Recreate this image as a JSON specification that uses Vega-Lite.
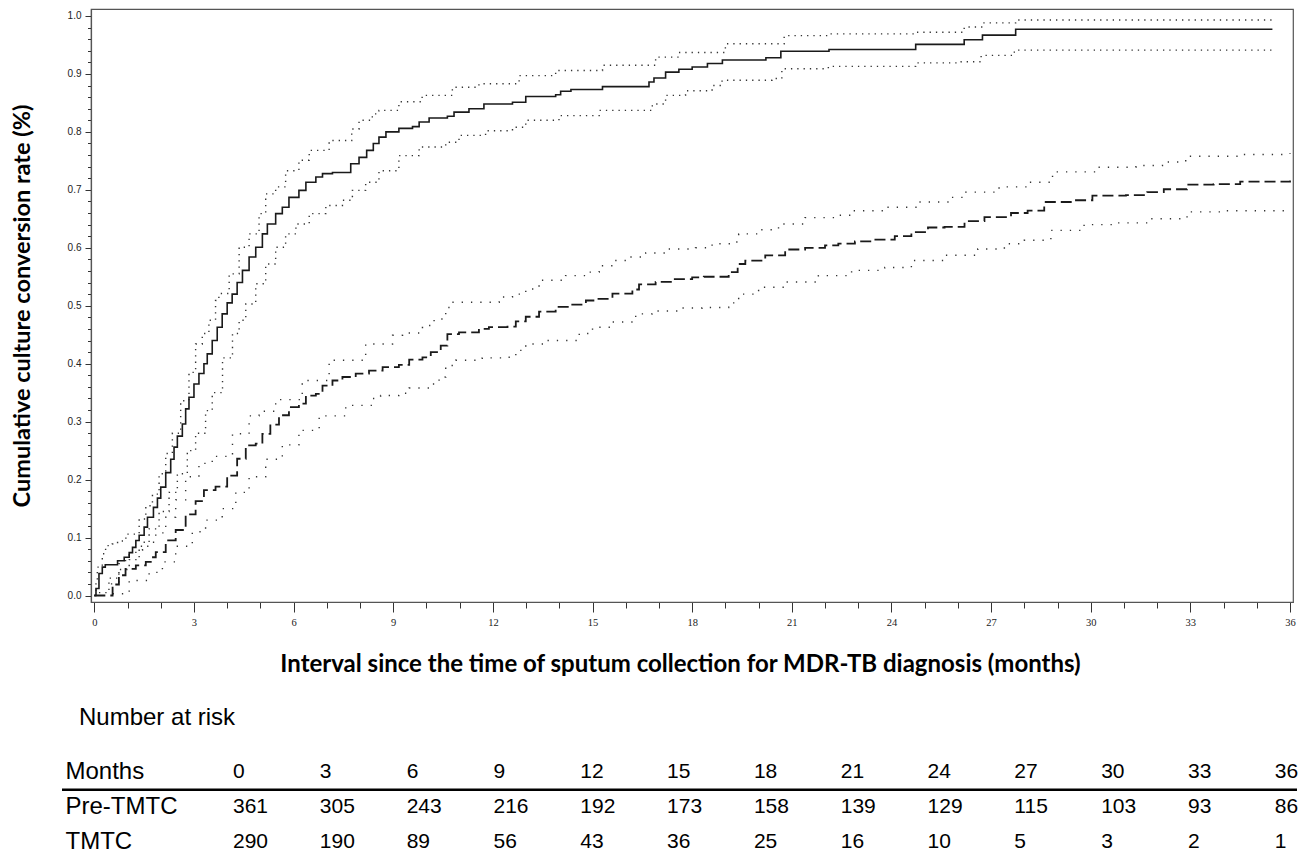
{
  "$schema": "https://vega.github.io/schema/vega-lite/v6.json",
  "background": "white",
  "padding": {"left": 9, "top": 8, "right": 0, "bottom": 0},
  "config": {"view": {"stroke": null}, "font": "Liberation Sans"},
  "spacing": 28,
  "datasets": {
    "km": [
      {"s":"TE","m":0,"v":0},{"s":"TE","m":0.05,"v":0.012},{"s":"TE","m":0.14,"v":0.038},{"s":"TE","m":0.24,"v":0.049},{"s":"TE","m":0.33,"v":0.053},{"s":"TE","m":0.7,"v":0.06},{"s":"TE","m":0.9,"v":0.066},{"s":"TE","m":1.05,"v":0.074},{"s":"TE","m":1.15,"v":0.083},{"s":"TE","m":1.25,"v":0.095},{"s":"TE","m":1.35,"v":0.104},{"s":"TE","m":1.5,"v":0.118},{"s":"TE","m":1.6,"v":0.135},{"s":"TE","m":1.78,"v":0.152},{"s":"TE","m":1.9,"v":0.168},{"s":"TE","m":2.0,"v":0.187},{"s":"TE","m":2.15,"v":0.212},{"s":"TE","m":2.3,"v":0.235},{"s":"TE","m":2.4,"v":0.256},{"s":"TE","m":2.5,"v":0.275},{"s":"TE","m":2.65,"v":0.296},{"s":"TE","m":2.75,"v":0.322},{"s":"TE","m":2.85,"v":0.342},{"s":"TE","m":3.0,"v":0.365},{"s":"TE","m":3.15,"v":0.383},{"s":"TE","m":3.3,"v":0.4},{"s":"TE","m":3.4,"v":0.417},{"s":"TE","m":3.55,"v":0.44},{"s":"TE","m":3.7,"v":0.463},{"s":"TE","m":3.85,"v":0.486},{"s":"TE","m":4.0,"v":0.505},{"s":"TE","m":4.15,"v":0.52},{"s":"TE","m":4.3,"v":0.54},{"s":"TE","m":4.46,"v":0.561},{"s":"TE","m":4.66,"v":0.584},{"s":"TE","m":4.86,"v":0.601},{"s":"TE","m":5.06,"v":0.624},{"s":"TE","m":5.21,"v":0.641},{"s":"TE","m":5.46,"v":0.659},{"s":"TE","m":5.66,"v":0.67},{"s":"TE","m":5.86,"v":0.687},{"s":"TE","m":6.16,"v":0.699},{"s":"TE","m":6.37,"v":0.713},{"s":"TE","m":6.67,"v":0.722},{"s":"TE","m":6.87,"v":0.728},{"s":"TE","m":7.17,"v":0.73},{"s":"TE","m":7.72,"v":0.745},{"s":"TE","m":7.97,"v":0.756},{"s":"TE","m":8.2,"v":0.768},{"s":"TE","m":8.4,"v":0.78},{"s":"TE","m":8.57,"v":0.791},{"s":"TE","m":8.78,"v":0.8},{"s":"TE","m":9.17,"v":0.806},{"s":"TE","m":9.58,"v":0.809},{"s":"TE","m":9.78,"v":0.817},{"s":"TE","m":10.08,"v":0.824},{"s":"TE","m":10.63,"v":0.827},{"s":"TE","m":10.83,"v":0.834},{"s":"TE","m":11.28,"v":0.84},{"s":"TE","m":11.73,"v":0.848},{"s":"TE","m":12.59,"v":0.851},{"s":"TE","m":12.99,"v":0.861},{"s":"TE","m":13.89,"v":0.864},{"s":"TE","m":14.04,"v":0.87},{"s":"TE","m":14.35,"v":0.873},{"s":"TE","m":15.3,"v":0.878},{"s":"TE","m":16.7,"v":0.886},{"s":"TE","m":16.85,"v":0.893},{"s":"TE","m":17.2,"v":0.903},{"s":"TE","m":17.6,"v":0.908},{"s":"TE","m":18.0,"v":0.912},{"s":"TE","m":18.46,"v":0.918},{"s":"TE","m":18.91,"v":0.924},{"s":"TE","m":20.22,"v":0.928},{"s":"TE","m":20.67,"v":0.939},{"s":"TE","m":22.12,"v":0.942},{"s":"TE","m":24.73,"v":0.951},{"s":"TE","m":26.19,"v":0.959},{"s":"TE","m":26.74,"v":0.967},{"s":"TE","m":27.74,"v":0.977},{"s":"TE","m":35.47,"v":0.977},
      {"s":"TU","m":0,"v":0},{"s":"TU","m":0.05,"v":0.02},{"s":"TU","m":0.09,"v":0.049},{"s":"TU","m":0.24,"v":0.072},{"s":"TU","m":0.34,"v":0.086},{"s":"TU","m":0.54,"v":0.089},{"s":"TU","m":0.7,"v":0.094},{"s":"TU","m":0.95,"v":0.106},{"s":"TU","m":1.35,"v":0.132},{"s":"TU","m":1.55,"v":0.155},{"s":"TU","m":1.75,"v":0.175},{"s":"TU","m":1.95,"v":0.21},{"s":"TU","m":2.15,"v":0.245},{"s":"TU","m":2.35,"v":0.28},{"s":"TU","m":2.6,"v":0.336},{"s":"TU","m":2.85,"v":0.385},{"s":"TU","m":3.05,"v":0.434},{"s":"TU","m":3.25,"v":0.452},{"s":"TU","m":3.45,"v":0.475},{"s":"TU","m":3.65,"v":0.509},{"s":"TU","m":3.75,"v":0.521},{"s":"TU","m":4.06,"v":0.555},{"s":"TU","m":4.36,"v":0.601},{"s":"TU","m":4.66,"v":0.624},{"s":"TU","m":4.96,"v":0.659},{"s":"TU","m":5.16,"v":0.693},{"s":"TU","m":5.46,"v":0.705},{"s":"TU","m":5.76,"v":0.733},{"s":"TU","m":6.16,"v":0.751},{"s":"TU","m":6.47,"v":0.768},{"s":"TU","m":7.07,"v":0.785},{"s":"TU","m":7.75,"v":0.805},{"s":"TU","m":7.97,"v":0.82},{"s":"TU","m":8.37,"v":0.831},{"s":"TU","m":8.57,"v":0.837},{"s":"TU","m":9.17,"v":0.852},{"s":"TU","m":9.87,"v":0.863},{"s":"TU","m":10.78,"v":0.877},{"s":"TU","m":11.58,"v":0.883},{"s":"TU","m":12.79,"v":0.897},{"s":"TU","m":13.89,"v":0.906},{"s":"TU","m":15.3,"v":0.915},{"s":"TU","m":16.9,"v":0.929},{"s":"TU","m":17.6,"v":0.937},{"s":"TU","m":19.0,"v":0.952},{"s":"TU","m":20.77,"v":0.966},{"s":"TU","m":22.12,"v":0.969},{"s":"TU","m":24.73,"v":0.972},{"s":"TU","m":26.19,"v":0.981},{"s":"TU","m":26.74,"v":0.988},{"s":"TU","m":27.74,"v":0.993},{"s":"TU","m":35.47,"v":0.993},
      {"s":"TL","m":0.14,"v":0.005},{"s":"TL","m":0.44,"v":0.03},{"s":"TL","m":0.74,"v":0.045},{"s":"TL","m":1.05,"v":0.062},{"s":"TL","m":1.35,"v":0.085},{"s":"TL","m":1.65,"v":0.115},{"s":"TL","m":1.95,"v":0.145},{"s":"TL","m":2.25,"v":0.178},{"s":"TL","m":2.5,"v":0.21},{"s":"TL","m":2.8,"v":0.25},{"s":"TL","m":3.05,"v":0.28},{"s":"TL","m":3.35,"v":0.319},{"s":"TL","m":3.55,"v":0.35},{"s":"TL","m":3.86,"v":0.41},{"s":"TL","m":4.16,"v":0.452},{"s":"TL","m":4.36,"v":0.475},{"s":"TL","m":4.56,"v":0.503},{"s":"TL","m":4.86,"v":0.538},{"s":"TL","m":5.16,"v":0.572},{"s":"TL","m":5.46,"v":0.601},{"s":"TL","m":5.76,"v":0.624},{"s":"TL","m":6.07,"v":0.641},{"s":"TL","m":6.47,"v":0.659},{"s":"TL","m":6.97,"v":0.673},{"s":"TL","m":7.47,"v":0.682},{"s":"TL","m":7.77,"v":0.699},{"s":"TL","m":8.17,"v":0.713},{"s":"TL","m":8.57,"v":0.733},{"s":"TL","m":9.17,"v":0.759},{"s":"TL","m":9.78,"v":0.774},{"s":"TL","m":10.58,"v":0.782},{"s":"TL","m":10.98,"v":0.794},{"s":"TL","m":11.78,"v":0.802},{"s":"TL","m":12.59,"v":0.808},{"s":"TL","m":12.99,"v":0.82},{"s":"TL","m":13.99,"v":0.828},{"s":"TL","m":15.2,"v":0.837},{"s":"TL","m":16.6,"v":0.837},{"s":"TL","m":16.8,"v":0.848},{"s":"TL","m":17.2,"v":0.863},{"s":"TL","m":17.8,"v":0.871},{"s":"TL","m":18.6,"v":0.88},{"s":"TL","m":18.9,"v":0.889},{"s":"TL","m":20.4,"v":0.892},{"s":"TL","m":20.7,"v":0.909},{"s":"TL","m":22.1,"v":0.913},{"s":"TL","m":24.73,"v":0.919},{"s":"TL","m":26.1,"v":0.921},{"s":"TL","m":26.7,"v":0.932},{"s":"TL","m":27.7,"v":0.941},{"s":"TL","m":35.47,"v":0.941},
      {"s":"PE","m":0,"v":0},{"s":"PE","m":0.55,"v":0.019},{"s":"PE","m":0.74,"v":0.035},{"s":"PE","m":0.94,"v":0.046},{"s":"PE","m":1.25,"v":0.052},{"s":"PE","m":1.55,"v":0.058},{"s":"PE","m":1.7,"v":0.066},{"s":"PE","m":1.85,"v":0.075},{"s":"PE","m":2.15,"v":0.095},{"s":"PE","m":2.45,"v":0.113},{"s":"PE","m":2.75,"v":0.14},{"s":"PE","m":3.05,"v":0.163},{"s":"PE","m":3.3,"v":0.182},{"s":"PE","m":3.65,"v":0.188},{"s":"PE","m":4.0,"v":0.207},{"s":"PE","m":4.3,"v":0.236},{"s":"PE","m":4.56,"v":0.259},{"s":"PE","m":4.86,"v":0.262},{"s":"PE","m":5.06,"v":0.279},{"s":"PE","m":5.3,"v":0.295},{"s":"PE","m":5.56,"v":0.311},{"s":"PE","m":5.86,"v":0.325},{"s":"PE","m":6.16,"v":0.331},{"s":"PE","m":6.37,"v":0.345},{"s":"PE","m":6.67,"v":0.348},{"s":"PE","m":6.87,"v":0.362},{"s":"PE","m":7.17,"v":0.371},{"s":"PE","m":7.47,"v":0.377},{"s":"PE","m":7.87,"v":0.383},{"s":"PE","m":8.27,"v":0.388},{"s":"PE","m":8.68,"v":0.394},{"s":"PE","m":9.17,"v":0.398},{"s":"PE","m":9.48,"v":0.407},{"s":"PE","m":9.88,"v":0.411},{"s":"PE","m":10.13,"v":0.42},{"s":"PE","m":10.43,"v":0.431},{"s":"PE","m":10.63,"v":0.451},{"s":"PE","m":10.98,"v":0.454},{"s":"PE","m":11.58,"v":0.46},{"s":"PE","m":11.88,"v":0.463},{"s":"PE","m":12.44,"v":0.464},{"s":"PE","m":12.69,"v":0.473},{"s":"PE","m":12.99,"v":0.481},{"s":"PE","m":13.39,"v":0.49},{"s":"PE","m":13.89,"v":0.498},{"s":"PE","m":14.39,"v":0.502},{"s":"PE","m":14.8,"v":0.509},{"s":"PE","m":15.1,"v":0.512},{"s":"PE","m":15.6,"v":0.521},{"s":"PE","m":16.2,"v":0.528},{"s":"PE","m":16.4,"v":0.537},{"s":"PE","m":16.9,"v":0.541},{"s":"PE","m":17.4,"v":0.546},{"s":"PE","m":18.0,"v":0.549},{"s":"PE","m":18.35,"v":0.55},{"s":"PE","m":19.1,"v":0.558},{"s":"PE","m":19.37,"v":0.572},{"s":"PE","m":19.6,"v":0.578},{"s":"PE","m":20.2,"v":0.587},{"s":"PE","m":20.8,"v":0.597},{"s":"PE","m":21.4,"v":0.6},{"s":"PE","m":22.0,"v":0.604},{"s":"PE","m":22.4,"v":0.607},{"s":"PE","m":22.9,"v":0.611},{"s":"PE","m":23.4,"v":0.614},{"s":"PE","m":24.1,"v":0.62},{"s":"PE","m":24.6,"v":0.627},{"s":"PE","m":25.1,"v":0.635},{"s":"PE","m":25.6,"v":0.636},{"s":"PE","m":26.2,"v":0.646},{"s":"PE","m":26.8,"v":0.653},{"s":"PE","m":27.6,"v":0.66},{"s":"PE","m":28.1,"v":0.664},{"s":"PE","m":28.6,"v":0.679},{"s":"PE","m":29.4,"v":0.682},{"s":"PE","m":30.05,"v":0.69},{"s":"PE","m":31.06,"v":0.691},{"s":"PE","m":31.7,"v":0.696},{"s":"PE","m":32.2,"v":0.701},{"s":"PE","m":32.9,"v":0.709},{"s":"PE","m":33.7,"v":0.71},{"s":"PE","m":34.5,"v":0.714},{"s":"PE","m":36.0,"v":0.716},
      {"s":"PU","m":0.5,"v":0.02},{"s":"PU","m":0.74,"v":0.055},{"s":"PU","m":0.94,"v":0.07},{"s":"PU","m":1.25,"v":0.078},{"s":"PU","m":1.45,"v":0.092},{"s":"PU","m":1.85,"v":0.108},{"s":"PU","m":2.15,"v":0.135},{"s":"PU","m":2.45,"v":0.165},{"s":"PU","m":2.75,"v":0.205},{"s":"PU","m":3.15,"v":0.228},{"s":"PU","m":3.55,"v":0.24},{"s":"PU","m":4.16,"v":0.279},{"s":"PU","m":4.66,"v":0.31},{"s":"PU","m":4.96,"v":0.318},{"s":"PU","m":5.46,"v":0.338},{"s":"PU","m":6.26,"v":0.371},{"s":"PU","m":7.07,"v":0.406},{"s":"PU","m":8.17,"v":0.434},{"s":"PU","m":8.98,"v":0.449},{"s":"PU","m":9.28,"v":0.453},{"s":"PU","m":9.88,"v":0.466},{"s":"PU","m":10.23,"v":0.477},{"s":"PU","m":10.58,"v":0.497},{"s":"PU","m":10.73,"v":0.506},{"s":"PU","m":12.19,"v":0.515},{"s":"PU","m":12.59,"v":0.52},{"s":"PU","m":12.99,"v":0.529},{"s":"PU","m":13.39,"v":0.544},{"s":"PU","m":14.19,"v":0.552},{"s":"PU","m":14.79,"v":0.558},{"s":"PU","m":15.2,"v":0.569},{"s":"PU","m":15.6,"v":0.578},{"s":"PU","m":16.1,"v":0.584},{"s":"PU","m":16.6,"v":0.591},{"s":"PU","m":17.2,"v":0.598},{"s":"PU","m":18.1,"v":0.6},{"s":"PU","m":18.6,"v":0.607},{"s":"PU","m":19.2,"v":0.61},{"s":"PU","m":19.4,"v":0.624},{"s":"PU","m":20.0,"v":0.631},{"s":"PU","m":20.6,"v":0.641},{"s":"PU","m":21.4,"v":0.652},{"s":"PU","m":22.4,"v":0.656},{"s":"PU","m":22.8,"v":0.664},{"s":"PU","m":23.8,"v":0.67},{"s":"PU","m":24.83,"v":0.679},{"s":"PU","m":25.8,"v":0.687},{"s":"PU","m":26.24,"v":0.696},{"s":"PU","m":27.24,"v":0.705},{"s":"PU","m":28.15,"v":0.713},{"s":"PU","m":28.85,"v":0.731},{"s":"PU","m":30.15,"v":0.739},{"s":"PU","m":31.36,"v":0.742},{"s":"PU","m":32.16,"v":0.748},{"s":"PU","m":32.86,"v":0.758},{"s":"PU","m":34.47,"v":0.761},{"s":"PU","m":36.0,"v":0.763},
      {"s":"PL","m":0.55,"v":0.003},{"s":"PL","m":1.05,"v":0.026},{"s":"PL","m":1.65,"v":0.04},{"s":"PL","m":2.05,"v":0.058},{"s":"PL","m":2.45,"v":0.085},{"s":"PL","m":2.95,"v":0.11},{"s":"PL","m":3.35,"v":0.13},{"s":"PL","m":3.85,"v":0.15},{"s":"PL","m":4.26,"v":0.178},{"s":"PL","m":4.66,"v":0.205},{"s":"PL","m":5.16,"v":0.235},{"s":"PL","m":5.66,"v":0.26},{"s":"PL","m":6.16,"v":0.285},{"s":"PL","m":6.77,"v":0.31},{"s":"PL","m":7.57,"v":0.328},{"s":"PL","m":8.37,"v":0.34},{"s":"PL","m":8.62,"v":0.345},{"s":"PL","m":9.17,"v":0.349},{"s":"PL","m":9.48,"v":0.358},{"s":"PL","m":10.08,"v":0.365},{"s":"PL","m":10.38,"v":0.377},{"s":"PL","m":10.58,"v":0.397},{"s":"PL","m":10.88,"v":0.406},{"s":"PL","m":11.68,"v":0.41},{"s":"PL","m":12.34,"v":0.411},{"s":"PL","m":12.69,"v":0.423},{"s":"PL","m":12.99,"v":0.434},{"s":"PL","m":13.59,"v":0.44},{"s":"PL","m":14.6,"v":0.452},{"s":"PL","m":15.0,"v":0.463},{"s":"PL","m":15.6,"v":0.472},{"s":"PL","m":16.3,"v":0.486},{"s":"PL","m":16.8,"v":0.491},{"s":"PL","m":17.6,"v":0.496},{"s":"PL","m":18.3,"v":0.497},{"s":"PL","m":19.1,"v":0.505},{"s":"PL","m":19.4,"v":0.52},{"s":"PL","m":20.0,"v":0.532},{"s":"PL","m":20.8,"v":0.541},{"s":"PL","m":21.8,"v":0.552},{"s":"PL","m":22.8,"v":0.561},{"s":"PL","m":23.8,"v":0.566},{"s":"PL","m":24.6,"v":0.578},{"s":"PL","m":25.6,"v":0.587},{"s":"PL","m":26.6,"v":0.598},{"s":"PL","m":27.4,"v":0.607},{"s":"PL","m":28.0,"v":0.613},{"s":"PL","m":28.8,"v":0.63},{"s":"PL","m":29.8,"v":0.64},{"s":"PL","m":30.8,"v":0.643},{"s":"PL","m":31.8,"v":0.65},{"s":"PL","m":32.9,"v":0.662},{"s":"PL","m":33.9,"v":0.664},{"s":"PL","m":35.9,"v":0.673}
    ],
    "risk": [
      {"row":"Months","month":0,"txt":"0"},{"row":"Months","month":3,"txt":"3"},{"row":"Months","month":6,"txt":"6"},{"row":"Months","month":9,"txt":"9"},{"row":"Months","month":12,"txt":"12"},{"row":"Months","month":15,"txt":"15"},{"row":"Months","month":18,"txt":"18"},{"row":"Months","month":21,"txt":"21"},{"row":"Months","month":24,"txt":"24"},{"row":"Months","month":27,"txt":"27"},{"row":"Months","month":30,"txt":"30"},{"row":"Months","month":33,"txt":"33"},{"row":"Months","month":36,"txt":"36"},
      {"row":"Pre-TMTC","month":0,"txt":"361"},{"row":"Pre-TMTC","month":3,"txt":"305"},{"row":"Pre-TMTC","month":6,"txt":"243"},{"row":"Pre-TMTC","month":9,"txt":"216"},{"row":"Pre-TMTC","month":12,"txt":"192"},{"row":"Pre-TMTC","month":15,"txt":"173"},{"row":"Pre-TMTC","month":18,"txt":"158"},{"row":"Pre-TMTC","month":21,"txt":"139"},{"row":"Pre-TMTC","month":24,"txt":"129"},{"row":"Pre-TMTC","month":27,"txt":"115"},{"row":"Pre-TMTC","month":30,"txt":"103"},{"row":"Pre-TMTC","month":33,"txt":"93"},{"row":"Pre-TMTC","month":36,"txt":"86"},
      {"row":"TMTC","month":0,"txt":"290"},{"row":"TMTC","month":3,"txt":"190"},{"row":"TMTC","month":6,"txt":"89"},{"row":"TMTC","month":9,"txt":"56"},{"row":"TMTC","month":12,"txt":"43"},{"row":"TMTC","month":15,"txt":"36"},{"row":"TMTC","month":18,"txt":"25"},{"row":"TMTC","month":21,"txt":"16"},{"row":"TMTC","month":24,"txt":"10"},{"row":"TMTC","month":27,"txt":"5"},{"row":"TMTC","month":30,"txt":"3"},{"row":"TMTC","month":33,"txt":"2"},{"row":"TMTC","month":36,"txt":"1"}
    ]
  },
  "vconcat": [
    {
      "width": 1202,
      "height": 593,
      "data": {"name": "km"},
      "view": {"stroke": "#555", "strokeWidth": 1.2},
      "encoding": {
        "x": {
          "field": "m", "type": "quantitative",
          "scale": {"domain": [-0.1, 36.09], "nice": false, "zero": false},
          "axis": {
            "values": [0,0.5,1,1.5,2,2.5,3,3.5,4,4.5,5,5.5,6,6.5,7,7.5,8,8.5,9,9.5,10,10.5,11,11.5,12,12.5,13,13.5,14,14.5,15,15.5,16,16.5,17,17.5,18,18.5,19,19.5,20,20.5,21,21.5,22,22.5,23,23.5,24,24.5,25,25.5,26,26.5,27,27.5,28,28.5,29,29.5,30,30.5,31,31.5,32,32.5,33,33.5,34,34.5,35,35.5,36],
            "format": "d",
            "labelExpr": "datum.value % 3 === 0 ? datum.label : ''",
            "tickSize": {"condition": {"test": "datum.value % 3 === 0", "value": 10}, "value": 6},
            "labelFlush": false, "labelOverlap": false, "grid": false,
            "domainColor": "#555", "domainWidth": 1.2, "tickColor": "#333", "tickWidth": 1,
            "labelFont": "Liberation Sans Narrow", "labelFontSize": 10.5, "labelColor": "#222", "labelPadding": 5,
            "title": "Interval since the time of sputum collection for MDR-TB diagnosis (months)",
            "titleFont": "Lato", "titleFontWeight": "bold", "titleFontSize": 24, "titleColor": "#000", "titlePadding": 25, "titleX": 589
          }
        },
        "y": {
          "field": "v", "type": "quantitative",
          "scale": {"domain": [-0.0112, 1.012], "nice": false, "zero": false},
          "axis": {
            "values": [0,0.02,0.04,0.06,0.08,0.1,0.12,0.14,0.16,0.18,0.2,0.22,0.24,0.26,0.28,0.3,0.32,0.34,0.36,0.38,0.4,0.42,0.44,0.46,0.48,0.5,0.52,0.54,0.56,0.58,0.6,0.62,0.64,0.66,0.68,0.7,0.72,0.74,0.76,0.78,0.8,0.82,0.84,0.86,0.88,0.9,0.92,0.94,0.96,0.98,1],
            "format": ".1f",
            "labelExpr": "abs(datum.value*10 - round(datum.value*10)) < 0.001 ? datum.label : ''",
            "tickSize": {"condition": {"test": "abs(datum.value*10 - round(datum.value*10)) < 0.001", "value": 6}, "value": 3.5},
            "labelFlush": false, "labelOverlap": false, "grid": false,
            "domainColor": "#555", "domainWidth": 1.2, "tickColor": "#333", "tickWidth": 1,
            "labelFont": "Liberation Sans", "labelFontSize": 10, "labelColor": "#222", "labelPadding": 4,
            "title": "Cumulative culture conversion rate (%)",
            "titleFont": "Lato", "titleFontWeight": "bold", "titleFontSize": 23.5, "titleColor": "#000", "titlePadding": 33
          }
        }
      },
      "layer": [
        {"transform": [{"filter": "datum.s === 'TU' || datum.s === 'TL'"}], "mark": {"type": "line", "interpolate": "step-after", "color": "#333", "strokeWidth": 1.4, "strokeDash": [1.3, 5]}, "encoding": {"detail": {"field": "s"}}},
        {"transform": [{"filter": "datum.s === 'PU' || datum.s === 'PL'"}], "mark": {"type": "line", "interpolate": "step-after", "color": "#333", "strokeWidth": 1.4, "strokeDash": [1.3, 8]}, "encoding": {"detail": {"field": "s"}}},
        {"transform": [{"filter": "datum.s === 'TE'"}], "mark": {"type": "line", "interpolate": "step-after", "color": "#1a1a1a", "strokeWidth": 1.6}},
        {"transform": [{"filter": "datum.s === 'PE'"}], "mark": {"type": "line", "interpolate": "step-after", "color": "#1a1a1a", "strokeWidth": 1.8, "strokeDash": [11, 5]}}
      ]
    },
    {
      "width": 1202,
      "height": 104,
      "data": {"name": "risk"},
      "title": {"text": "Number at risk", "anchor": "start", "frame": "group", "dx": -12, "fontSize": 24, "fontWeight": "normal", "font": "Liberation Sans", "color": "#000", "offset": 25},
      "encoding": {
        "y": {
          "field": "row", "type": "nominal",
          "scale": {"domain": ["Months", "Pre-TMTC", "TMTC"], "paddingInner": 0, "paddingOuter": 0},
          "axis": {"title": null, "ticks": false, "tickSize": 0, "domain": false, "labelAlign": "left", "labelPadding": 26, "labelFontSize": 24, "labelFont": "Liberation Sans", "labelColor": "#000"}
        }
      },
      "layer": [
        {
          "mark": {"type": "text", "align": "left", "baseline": "middle", "fontSize": 21, "font": "Liberation Sans", "color": "#000"},
          "encoding": {
            "x": {"field": "month", "type": "quantitative", "scale": {"domain": [-4.907, 36.628], "nice": false, "zero": false}, "axis": null},
            "text": {"field": "txt"}
          }
        },
        {
          "data": {"values": [{}]},
          "mark": {"type": "rule", "color": "#000", "strokeWidth": 2.5},
          "encoding": {
            "x": {"datum": -5.909, "type": "quantitative"},
            "x2": {"datum": 36.766},
            "y": {"datum": "Pre-TMTC", "type": "nominal", "bandPosition": 0}
          }
        }
      ]
    }
  ]
}
